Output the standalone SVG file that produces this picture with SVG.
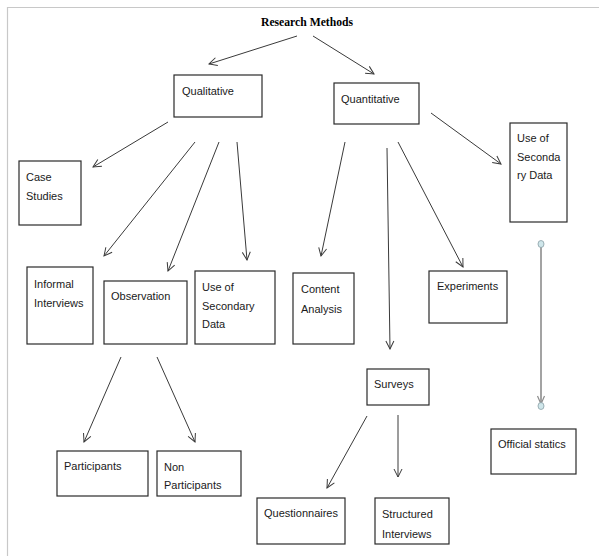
<svg xmlns="http://www.w3.org/2000/svg" width="599" height="556" viewBox="0 0 599 556">
<style>
.box{fill:#fff;stroke:#2a2a2a;stroke-width:1.2}
.t{font-family:"Liberation Sans",Arial,sans-serif;font-size:11px;fill:#1a1a1a}
.title{font-family:"Liberation Serif","Times New Roman",serif;font-size:13px;font-weight:bold;fill:#000}
.c{fill:none;stroke:#3a3a3a;stroke-width:1}
.g{fill:none;stroke:#8c8c8c;stroke-width:1.6}
.dot{fill:#cfe6ea;stroke:#8aa0a6;stroke-width:0.8}
</style>
<defs>
<marker id="ah" markerWidth="10" markerHeight="10" refX="9" refY="5" orient="auto" markerUnits="userSpaceOnUse">
<path d="M1,1 L9,5 L1,9" fill="none" stroke="#3a3a3a" stroke-width="1"/>
</marker>
<marker id="ahg" markerWidth="10" markerHeight="10" refX="9" refY="5" orient="auto" markerUnits="userSpaceOnUse">
<path d="M1,1.5 L9,5 L1,8.5" fill="none" stroke="#8c8c8c" stroke-width="1.2"/>
</marker>
</defs>
<rect x="0" y="0" width="599" height="556" fill="#fff"/>
<path d="M7.5,556 V7.5 H599" fill="none" stroke="#c8c8c8" stroke-width="1.2"/>

<g id="title"><text class="title" x="307" y="26" text-anchor="middle" textLength="92" lengthAdjust="spacingAndGlyphs">Research Methods</text></g>

<g id="connectors">
<line class="c" x1="297" y1="36" x2="209" y2="64" marker-end="url(#ah)"/>
<line class="c" x1="313" y1="36" x2="374" y2="74" marker-end="url(#ah)"/>
<line class="c" x1="168" y1="122" x2="93" y2="167" marker-end="url(#ah)"/>
<line class="c" x1="195" y1="142" x2="104" y2="256" marker-end="url(#ah)"/>
<line class="c" x1="219" y1="142" x2="168" y2="271" marker-end="url(#ah)"/>
<line class="c" x1="237" y1="142" x2="247" y2="260" marker-end="url(#ah)"/>
<line class="c" x1="345" y1="142" x2="321" y2="256" marker-end="url(#ah)"/>
<line class="c" x1="387" y1="148" x2="390" y2="349" marker-end="url(#ah)"/>
<line class="c" x1="398" y1="142" x2="463" y2="267" marker-end="url(#ah)"/>
<line class="c" x1="431" y1="113" x2="501" y2="164" marker-end="url(#ah)"/>
<line class="c" x1="121" y1="357" x2="84" y2="442" marker-end="url(#ah)"/>
<line class="c" x1="157" y1="357" x2="195" y2="442" marker-end="url(#ah)"/>
<line class="c" x1="367" y1="416" x2="327" y2="488" marker-end="url(#ah)"/>
<line class="c" x1="398" y1="415" x2="398" y2="477" marker-end="url(#ah)"/>
<line class="g" x1="541" y1="245" x2="541" y2="404" marker-end="url(#ahg)"/>
<ellipse class="dot" cx="541" cy="244" rx="3" ry="3.5"/>
<ellipse class="dot" cx="541" cy="406" rx="3" ry="3.5"/>
</g>

<g id="qualitative"><rect class="box" x="174" y="75" width="88" height="42"/><text class="t" x="182" y="95">Qualitative</text></g>
<g id="quantitative"><rect class="box" x="334" y="83" width="85" height="41"/><text class="t" x="341" y="103">Quantitative</text></g>
<g id="case-studies"><rect class="box" x="19" y="161" width="62" height="64"/><text class="t" x="26" y="181">Case</text><text class="t" x="26" y="200">Studies</text></g>
<g id="informal-interviews"><rect class="box" x="27" y="267" width="66" height="77"/><text class="t" x="34" y="288">Informal</text><text class="t" x="34" y="307">Interviews</text></g>
<g id="observation"><rect class="box" x="104" y="281" width="83" height="63"/><text class="t" x="111" y="300">Observation</text></g>
<g id="use-secondary-qual"><rect class="box" x="195" y="271" width="80" height="73"/><text class="t" x="202" y="291">Use of</text><text class="t" x="202" y="310">Secondary</text><text class="t" x="202" y="328">Data</text></g>
<g id="content-analysis"><rect class="box" x="293" y="273" width="61" height="71"/><text class="t" x="301" y="293">Content</text><text class="t" x="301" y="313">Analysis</text></g>
<g id="experiments"><rect class="box" x="429" y="271" width="78" height="52"/><text class="t" x="437" y="290">Experiments</text></g>
<g id="use-secondary-quant"><rect class="box" x="510" y="123" width="57" height="99"/><text class="t" x="517" y="142">Use of</text><text class="t" x="517" y="161">Seconda</text><text class="t" x="517" y="179">ry Data</text></g>
<g id="official-statics"><rect class="box" x="491" y="429" width="85" height="45"/><text class="t" x="498" y="448">Official statics</text></g>
<g id="surveys"><rect class="box" x="367" y="369" width="62" height="36"/><text class="t" x="374" y="388">Surveys</text></g>
<g id="participants"><rect class="box" x="57" y="451" width="91" height="45"/><text class="t" x="64" y="470">Participants</text></g>
<g id="non-participants"><rect class="box" x="157" y="451" width="84" height="45"/><text class="t" x="164" y="471">Non</text><text class="t" x="164" y="489">Participants</text></g>
<g id="questionnaires"><rect class="box" x="257" y="498" width="88" height="46"/><text class="t" x="264" y="517">Questionnaires</text></g>
<g id="structured-interviews"><rect class="box" x="375" y="498" width="74" height="46"/><text class="t" x="382" y="518">Structured</text><text class="t" x="382" y="538">Interviews</text></g>
</svg>
